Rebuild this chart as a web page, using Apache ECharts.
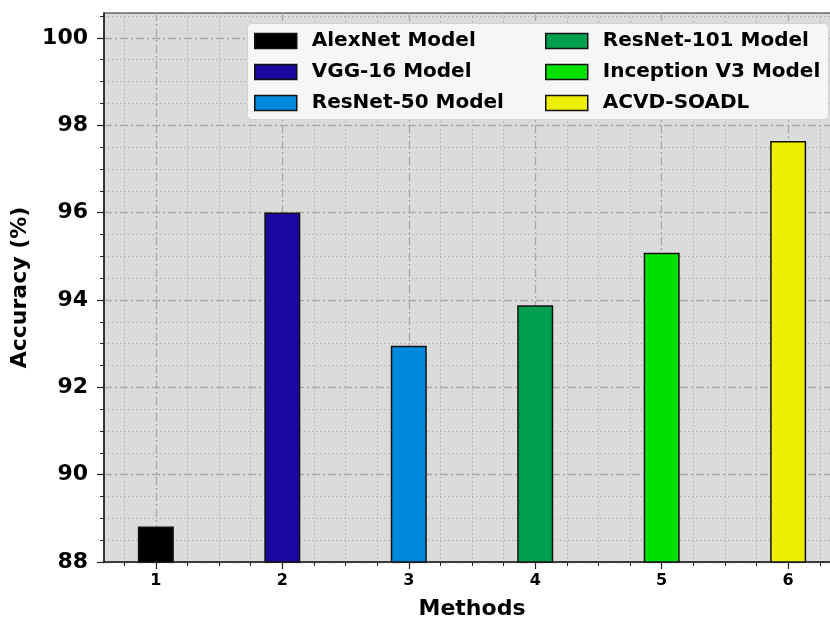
<!DOCTYPE html>
<html>
<head>
<meta charset="utf-8">
<title>Accuracy by method</title>
<script src="https://cdn.jsdelivr.net/npm/echarts@6/dist/echarts.min.js"></script>
<style>
  html, body { margin: 0; padding: 0; background: #ffffff; overflow: hidden; width: 830px; height: 621px; }
  /* the plot's right edge runs just past the visible page */
  #chart { width: 840px; height: 621px; }
</style>
</head>
<body>
<div id="chart"></div>
<script>
// Methods compared, their position on the x axis and the accuracy each reached
const methods = ['AlexNet Model', 'VGG-16 Model', 'ResNet-50 Model', 'ResNet-101 Model', 'Inception V3 Model', 'ACVD-SOADL'];
const positions = [1, 2, 3, 4, 5, 6];
const accuracy = [88.81, 96.0, 92.95, 93.88, 95.08, 97.64];
const barColors = ['#000000', '#1a07a0', '#0088dd', '#00a050', '#00e000', '#eeee00'];

// Axis ranges and tick values
const xRange = [0.59, 6.41];
const yRange = [88, 100.57];
const xMajorTicks = [1, 2, 3, 4, 5, 6];
const yMajorTicks = [88, 90, 92, 94, 96, 98, 100];
const xMinorStep = 0.25;
const yMinorStep = 0.5;

function minorValues(range, step, majors) {
  const out = [];
  const start = Math.ceil(range[0] / step) * step;
  for (let v = start; v <= range[1] + 1e-9; v += step) {
    const r = Math.round(v * 1000) / 1000;
    if (majors.indexOf(r) === -1) out.push(r);
  }
  return out;
}
const xMinorTicks = minorValues(xRange, xMinorStep, xMajorTicks);
const yMinorTicks = minorValues(yRange, yMinorStep, yMajorTicks);

const FONT = 'DejaVu Sans';
const spine = '#222222';
const majorGrid = { show: true, lineStyle: { color: '#a9a9a9', width: 1.3, type: [8, 3, 2, 3] } };
const minorGrid = { show: true, lineStyle: { color: '#b3b3b3', width: 1, type: [1.5, 2.5] } };

// fixed plot box; labels and titles sit outside it without shrinking it
const gridBox = { left: 104, top: 13, right: 0, bottom: 59, outerBoundsMode: 'none', containLabel: false };

const chart = echarts.init(document.getElementById('chart'), null, { renderer: 'canvas' });

const series = methods.map((name, i) => ({
  name: name,
  type: 'bar',
  xAxisIndex: 0,
  yAxisIndex: 0,
  barWidth: 36,
  barGap: '-100%',
  itemStyle: { color: barColors[i], borderColor: '#111111', borderWidth: 1.5 },
  data: [[positions[i], accuracy[i]]],
  z: 3
}));

const legendCommon = {
  orient: 'vertical',
  top: 31,
  padding: 0,
  itemGap: 11,
  itemWidth: 42,
  itemHeight: 15,
  icon: 'rect',
  itemStyle: { borderColor: '#111111', borderWidth: 1.5 },
  textStyle: { fontFamily: FONT, fontWeight: 'bold', fontSize: 20, color: '#000000', lineHeight: 18, padding: [0, 0, 0, 10] },
  selectedMode: false,
  z: 5
};

chart.setOption({
  animation: false,
  backgroundColor: '#ffffff',
  grid: [
    Object.assign({ show: true, backgroundColor: '#dbdbdb', borderColor: spine, borderWidth: 1.2 }, gridBox),
    Object.assign({ show: false }, gridBox)
  ],
  graphic: [{
    type: 'rect',
    left: 247,
    top: 23,
    shape: { width: 581, height: 96, r: 4 },
    style: { fill: '#f6f6f6', stroke: '#d2d2d2', lineWidth: 1 },
    z: 4
  }],
  legend: [
    Object.assign({ left: 254, data: methods.slice(0, 3) }, legendCommon),
    Object.assign({ left: 545, data: methods.slice(3) }, legendCommon)
  ],
  xAxis: [
    {
      type: 'value', gridIndex: 0, min: xRange[0], max: xRange[1],
      name: 'Methods', nameLocation: 'middle', nameGap: 36,
      nameTextStyle: { fontFamily: FONT, fontWeight: 'bold', fontSize: 22, color: '#000000' },
      axisLine: { show: true, onZero: false, lineStyle: { color: spine, width: 1.5 } },
      axisTick: { show: true, length: 7, customValues: xMajorTicks, lineStyle: { color: spine, width: 1.2 } },
      axisLabel: { show: true, customValues: xMajorTicks, margin: 11, fontFamily: FONT, fontWeight: 'bold', fontSize: 16, color: '#000000' },
      splitLine: majorGrid
    },
    {
      type: 'value', gridIndex: 1, min: xRange[0], max: xRange[1], position: 'bottom',
      axisLine: { show: false },
      axisTick: { show: true, length: 4, customValues: xMinorTicks, lineStyle: { color: spine, width: 1 } },
      axisLabel: { show: false },
      splitLine: minorGrid
    }
  ],
  yAxis: [
    {
      type: 'value', gridIndex: 0, min: yRange[0], max: yRange[1],
      name: 'Accuracy (%)', nameLocation: 'middle', nameGap: 71,
      nameTextStyle: { fontFamily: FONT, fontWeight: 'bold', fontSize: 22, color: '#000000' },
      axisLine: { show: true, onZero: false, lineStyle: { color: spine, width: 1.5 } },
      axisTick: { show: true, length: 7, customValues: yMajorTicks, lineStyle: { color: spine, width: 1.2 } },
      axisLabel: { show: true, customValues: yMajorTicks, margin: 16, fontFamily: FONT, fontWeight: 'bold', fontSize: 22, color: '#000000' },
      splitLine: majorGrid
    },
    {
      type: 'value', gridIndex: 1, min: yRange[0], max: yRange[1], position: 'left',
      axisLine: { show: false },
      axisTick: { show: true, length: 4, customValues: yMinorTicks, lineStyle: { color: spine, width: 1 } },
      axisLabel: { show: false },
      splitLine: minorGrid
    }
  ],
  series: series
});
</script>
</body>
</html>
